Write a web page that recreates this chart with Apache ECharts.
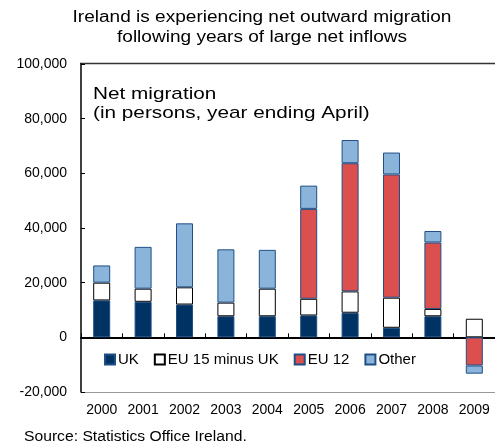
<!DOCTYPE html>
<html>
<head>
<meta charset="utf-8">
<script src="https://cdn.jsdelivr.net/npm/echarts@6/dist/echarts.min.js"></script>
<style>
  html, body { margin: 0; padding: 0; background: #fff; }
  #chart { width: 495px; height: 448px; }
</style>
</head>
<body>
<div id="chart"></div>
<script>
// year ending April
var years = ['2000', '2001', '2002', '2003', '2004', '2005', '2006', '2007', '2008', '2009'];
var ukVals = [13500, 13000, 12000, 7700, 7700, 8000, 9000, 3500, 7700, 0];
var eu15Vals = [6500, 4800, 6300, 5000, 10100, 6100, 7800, 11000, 2700, 6800];
var eu12Vals = [null, null, null, null, null, 32900, 46900, 45100, 24300, -10300];
var otherVals = [6300, 15300, 23400, 19500, 14200, 8500, 8500, 8000, 4200, -3000];

var font = 'Liberation Sans, Arial, sans-serif';
var myChart = echarts.init(document.getElementById('chart'));

function barSeries(name, data, fill, border) {
  return {
    name: name,
    type: 'bar',
    stack: 'mig',
    barWidth: 17,
    xAxisIndex: 0,
    itemStyle: { color: fill, borderColor: border, borderWidth: 1 },
    data: data
  };
}

var option = {
  animation: false,
  textStyle: { fontFamily: font },
  legend: {
    left: 104,
    top: 352,
    padding: 0,
    icon: 'rect',
    itemWidth: 10,
    itemHeight: 10,
    itemGap: 15,
    textStyle: { fontFamily: font, fontSize: 15, color: '#000', padding: [0, 0, 0, -2] },
    data: ['UK', 'EU 15 minus UK', 'EU 12', 'Other']
  },
  grid: { left: 81, right: 0, top: 64, bottom: 56 },
  xAxis: [
    {
      type: 'category',
      data: years,
      axisLine: { onZero: false, lineStyle: { color: '#999', width: 1 } },
      axisTick: { show: false },
      axisLabel: { color: '#000', fontSize: 14, fontFamily: font, margin: 11 }
    },
    {
      type: 'category',
      data: years,
      position: 'bottom',
      axisLine: { onZero: true, lineStyle: { color: '#000', width: 2 } },
      axisTick: { show: true, inside: true, length: 4, lineStyle: { color: '#000' } },
      axisLabel: { show: false }
    }
  ],
  yAxis: {
    type: 'value',
    min: -20000,
    max: 100000,
    interval: 20000,
    splitLine: { show: false },
    axisLine: { show: true, lineStyle: { color: '#000', width: 1.5 } },
    axisTick: { show: true, inside: true, length: 4, lineStyle: { color: '#000' } },
    axisLabel: {
      color: '#000', fontSize: 14, fontFamily: font, margin: 14,
      formatter: function (v) { return echarts.format.addCommas(v); }
    }
  },
  graphic: [
    {
      type: 'line',
      shape: { x1: 80, y1: 63.5, x2: 495, y2: 63.5 },
      style: { stroke: '#333', lineWidth: 1.5 }
    },
    {
      // title, text in the reference is drawn a bit wide
      type: 'text',
      x: 262,
      y: 8,
      scaleX: 1.19,
      style: {
        text: 'Ireland is experiencing net outward migration\nfollowing years of large net inflows',
        font: '16px ' + font,
        lineHeight: 20,
        align: 'center',
        verticalAlign: 'top',
        fill: '#000'
      }
    },
    {
      type: 'text',
      x: 93,
      y: 85,
      scaleX: 1.22,
      style: {
        text: 'Net migration\n(in persons, year ending April)',
        font: '17px ' + font,
        lineHeight: 19,
        verticalAlign: 'top',
        fill: '#000'
      }
    },
    {
      type: 'text',
      x: 24,
      y: 430,
      scaleX: 1.12,
      style: { text: 'Source: Statistics Office Ireland.', font: '14px ' + font, verticalAlign: 'top', fill: '#000' }
    }
  ],
  series: [
    barSeries('UK', ukVals, '#003264', '#1f4f86'),
    barSeries('EU 15 minus UK', eu15Vals, '#ffffff', '#000000'),
    barSeries('EU 12', eu12Vals, '#dc4f4f', '#1f4f86'),
    barSeries('Other', otherVals, '#8ab4da', '#1f4f86')
  ]
};

myChart.setOption(option);
</script>
</body>
</html>
